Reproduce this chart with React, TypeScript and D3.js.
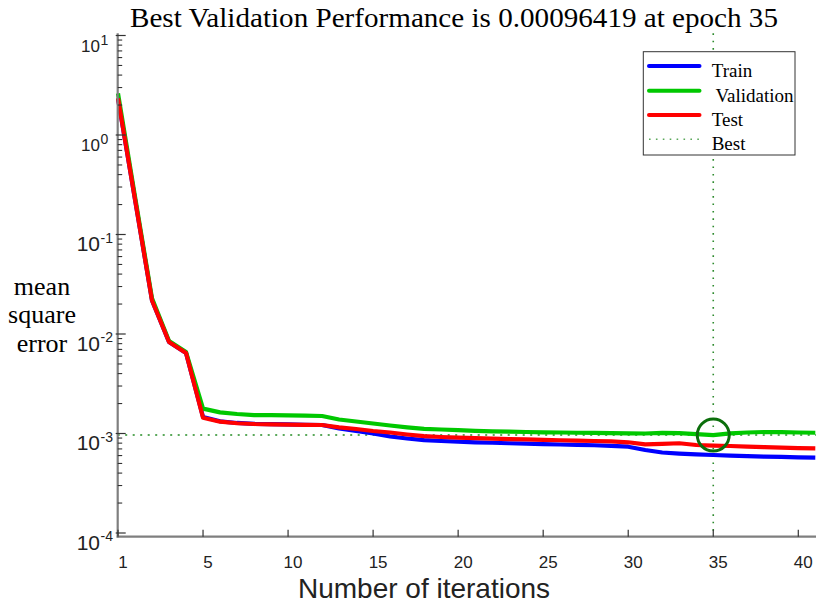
import React from "react";
import * as d3 from "d3";

// Performance per epoch (epoch index 0..41)
const trainPerf = [
  2.33, 0.225, 0.0217, 0.00832, 0.00644, 0.001465, 0.001326, 0.001276, 0.00125, 0.00124,
  0.001234, 0.001225, 0.001217, 0.001127, 0.00106, 0.001, 0.000933, 0.000891, 0.000857, 0.000841,
  0.000827, 0.000816, 0.000807, 0.000798, 0.000791, 0.000782, 0.000775, 0.000769, 0.000762, 0.000752,
  0.000737, 0.000683, 0.000644, 0.000629, 0.000618, 0.000608, 0.0006, 0.000593, 0.000586, 0.000581,
  0.000575, 0.000571,
];
const valPerf = [
  2.62, 0.24, 0.0228, 0.00851, 0.00659, 0.00178, 0.00163, 0.00157, 0.00153, 0.001527,
  0.00152, 0.001514, 0.0015, 0.001383, 0.00132, 0.00126, 0.001203, 0.001154, 0.001115, 0.001097,
  0.00108, 0.001065, 0.001052, 0.001042, 0.001035, 0.001028, 0.001023, 0.001018, 0.001016, 0.001011,
  0.001004, 0.001, 0.001016, 0.001007, 0.000984, 0.00096419, 0.001004, 0.001023, 0.001035, 0.00103,
  0.001023, 0.001018,
];
const testPerf = [
  2.33, 0.225, 0.0217, 0.00832, 0.00644, 0.00144, 0.001314, 0.001267, 0.001246, 0.001237,
  0.00123, 0.001222, 0.001217, 0.001154, 0.00111, 0.00106, 0.001023, 0.000977, 0.00094, 0.000922,
  0.000907, 0.000897, 0.000887, 0.000879, 0.000871, 0.000862, 0.000855, 0.000847, 0.000841, 0.000832,
  0.000816, 0.000779, 0.000788, 0.000798, 0.000766, 0.000757, 0.000749, 0.000738, 0.000728, 0.000721,
  0.000714, 0.00071,
];

const xTickValues = [0, 5, 10, 15, 20, 25, 30, 35, 40];
const xTickLabels = ["1", "5", "10", "15", "20", "25", "30", "35", "40"];
const yDecades = [1, 0, -1, -2, -3, -4];
const legendLabels = ["Train", "Validation", "Test", "Best"];
const seriesColors = ["#0000ff", "#00c800", "#ff0000"];
const bestEpoch = 35;
const bestPerf = 0.00096419;
const titleText = "Best Validation Performance is 0.00096419 at epoch 35";
const xLabelText = "Number of iterations";
const yLabelLines = ["mean", "square", "error"];

const SANS = "'Liberation Sans', Arial, Helvetica, sans-serif";
const SERIF = "'Liberation Serif', 'Times New Roman', serif";

export default function App() {
  const x = d3.scaleLinear().domain([0, 41]).range([118, 815.3]);
  const y = d3.scaleLog().domain([1e-4, 10]).range([533, 35.5]);
  const axisColor = "#7f7f7f";
  const axisX = 117.7;
  const axisY = 536.7;
  const axisTop = 33.3;
  const axisRight = 816;

  const line = d3
    .line<number>()
    .x((_, i) => x(i))
    .y((d) => y(d));

  const minorTicks: number[] = [];
  for (let k = -4; k <= 0; k++) {
    for (let m = 2; m <= 9; m++) minorTicks.push(m * Math.pow(10, k));
  }

  const series = [trainPerf, valPerf, testPerf];

  const legendX0 = 643.3;
  const legendY0 = 51.7;
  const legendRows = [66, 90.7, 115, 139.3];

  return (
    <svg
      width={816}
      height={606}
      style={{ position: "absolute", left: 0, top: 0, background: "#fff" }}
    >
      <rect x={0} y={0} width={816} height={606} fill="#fff" />

      {/* title */}
      <text
        x={130}
        y={27}
        fontFamily={SERIF}
        fontSize={26.5}
        fill="#000"
        textLength={648}
        lengthAdjust="spacingAndGlyphs"
      >
        {titleText}
      </text>

      {/* best lines */}
      <line
        x1={axisX}
        x2={axisRight}
        y1={y(bestPerf)}
        y2={y(bestPerf)}
        stroke="#5aa85a"
        strokeWidth={2}
        strokeDasharray="2 5.5"
      />
      <line
        x1={x(bestEpoch)}
        x2={x(bestEpoch)}
        y1={axisTop}
        y2={axisY}
        stroke="#2e8b2e"
        strokeWidth={1.6}
        strokeDasharray="1.6 5.8"
      />

      {/* data lines */}
      {series.map((s, i) => (
        <path
          key={i}
          d={line(s) || ""}
          fill="none"
          stroke={seriesColors[i]}
          strokeWidth={4.2}
          strokeLinejoin="round"
        />
      ))}

      {/* best circle */}
      <circle
        cx={x(bestEpoch)}
        cy={y(bestPerf)}
        r={16}
        fill="none"
        stroke="#0b6e0b"
        strokeWidth={3}
      />

      {/* axes */}
      <line x1={axisX} x2={axisX} y1={axisTop} y2={axisY + 1} stroke={axisColor} strokeWidth={2.2} />
      <line x1={axisX - 1} x2={axisRight} y1={axisY} y2={axisY} stroke={axisColor} strokeWidth={2.2} />

      {/* x ticks */}
      {xTickValues.map((v, i) => (
        <g key={v}>
          <line x1={x(v)} x2={x(v)} y1={axisY} y2={axisY - 7} stroke="#333" strokeWidth={1.2} />
          <text
            x={x(v) + 5}
            y={568}
            textAnchor="middle"
            fontFamily={SANS}
            fontSize={17}
            fill="#222"
          >
            {xTickLabels[i]}
          </text>
        </g>
      ))}

      {/* y minor ticks */}
      {minorTicks.map((v, i) => (
        <line key={i} x1={axisX} x2={axisX + 4.5} y1={y(v)} y2={y(v)} stroke="#333" strokeWidth={1.1} />
      ))}

      {/* y major ticks and labels */}
      {yDecades.map((k) => {
        const yy = y(Math.pow(10, k));
        const neg = k < 0;
        return (
          <g key={k}>
            <line x1={axisX - 2} x2={axisX + 8} y1={yy} y2={yy} stroke="#333" strokeWidth={1.2} />
            <text
              x={100}
              y={yy + (neg ? 16.7 : 16)}
              textAnchor="end"
              fontFamily={SANS}
              fontSize={neg ? 21 : 17}
              fill="#222"
            >
              10
            </text>
            <text
              x={100.5}
              y={yy + (neg ? 8.4 : 9)}
              textAnchor="start"
              fontFamily={SANS}
              fontSize={14}
              fill="#222"
            >
              {String(k)}
            </text>
          </g>
        );
      })}

      {/* y label */}
      {yLabelLines.map((t, i) => (
        <text
          key={t}
          x={42}
          y={295 + i * 28.3}
          textAnchor="middle"
          fontFamily={SERIF}
          fontSize={26}
          fill="#000"
        >
          {t}
        </text>
      ))}

      {/* x label */}
      <text
        x={424}
        y={598}
        textAnchor="middle"
        fontFamily={SANS}
        fontSize={28}
        fill="#222"
      >
        {xLabelText}
      </text>

      {/* legend */}
      <rect
        x={legendX0}
        y={legendY0}
        width={795 - legendX0}
        height={155 - legendY0}
        fill="#fff"
        stroke="#333"
        strokeWidth={1}
      />
      {legendLabels.map((lab, i) => (
        <g key={lab}>
          {i < 3 ? (
            <line
              x1={649}
              x2={699.5}
              y1={legendRows[i]}
              y2={legendRows[i]}
              stroke={seriesColors[i]}
              strokeWidth={4}
              strokeLinecap="round"
            />
          ) : (
            <line
              x1={649}
              x2={700}
              y1={legendRows[i]}
              y2={legendRows[i]}
              stroke="#5aa85a"
              strokeWidth={1.6}
              strokeDasharray="1.6 5.3"
            />
          )}
          <text
            x={lab === "Validation" ? 715.5 : 711.7}
            y={legendRows[i] + 11}
            fontFamily={SERIF}
            fontSize={19}
            fill="#000"
          >
            {lab}
          </text>
        </g>
      ))}
    </svg>
  );
}
